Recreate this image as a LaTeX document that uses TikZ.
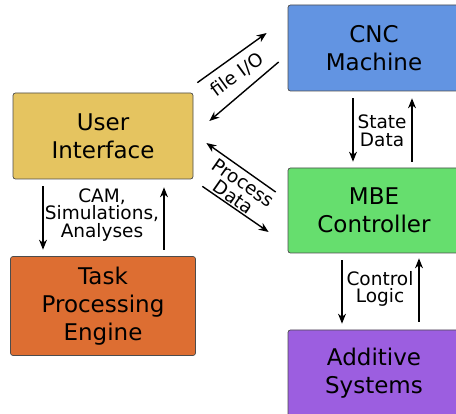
\documentclass[tikz,border=0pt]{standalone}
\usepackage{fontspec}
\setmainfont{DejaVu Sans}
\usetikzlibrary{arrows.meta,calc}

\definecolor{cncblue}{RGB}{98,148,226}
\definecolor{uiyellow}{RGB}{229,196,96}
\definecolor{mbegreen}{RGB}{102,222,110}
\definecolor{taskorange}{RGB}{221,110,50}
\definecolor{addpurple}{RGB}{156,94,224}

\begin{document}
\begin{tikzpicture}[x=1pt, y=-1pt,
    box/.style={draw=black!70, line width=0.7pt, rounded corners=2.5pt, align=center,
        font=\fontsize{23}{28}\selectfont, inner sep=0pt},
    arr/.style={-{Stealth[length=10pt, width=8pt]}, line width=1.4pt},
    lbl/.style={align=center, font=\fontsize{18.5}{17.5}\selectfont, inner sep=0pt}]
    \useasboundingbox (0,0) rectangle (456,414);

    % 方框
    \node[box, fill=uiyellow, minimum width=180pt, minimum height=86pt] (ui) at (103,136) {User\\Interface};
    \node[box, fill=taskorange, minimum width=185pt, minimum height=99pt] (task) at (103,306) {Task\\Processing\\Engine};
    \node[box, fill=cncblue, minimum width=172pt, minimum height=86pt] (cnc) at (374,48) {CNC\\Machine};
    \node[box, fill=mbegreen, minimum width=172pt, minimum height=85pt] (mbe) at (374,210.5) {MBE\\Controller};
    \node[box, fill=addpurple, minimum width=172pt, minimum height=86pt] (add) at (374,373) {Additive\\Systems};

    % UI <-> Task
    \draw[arr] ($(ui.south)+(-60,7)$) -- ($(task.north)+(-60,-6.5)$);
    \draw[arr] ($(task.north)+(61,-6.5)$) -- ($(ui.south)+(61,8)$);
    \node[lbl] (cam) at (102,215) {CAM,\\Simulations,\\Analyses};

    % CNC <-> MBE
    \draw[arr] ($(cnc.south)+(-21,7)$) -- ($(mbe.north)+(-21,-6)$);
    \draw[arr] ($(mbe.north)+(38,-6)$) -- ($(cnc.south)+(38,7)$);
    \node[lbl] (state) at (382,131) {State\\Data};

    % MBE <-> Additive
    \draw[arr] ($(mbe.south)+(-32,7)$) -- ($(add.north)+(-32,-6)$);
    \draw[arr] ($(add.north)+(45,-8)$) -- ($(mbe.south)+(45,5)$);
    \node[lbl] (ctrl) at (380,289) {Control\\Logic};

    % UI <-> CNC
    \draw[arr] ($(ui.north east)+(4,-10)$) -- ($(cnc.west)+(-21,-15)$);
    \draw[arr] ($(cnc.west)+(-9,14)$) -- ($(ui.east)+(16,-15)$);
    \node[lbl, rotate=36] (fileio) at (237,75) {file I/O};

    % UI <-> MBE
    \draw[arr] ($(mbe.west)+(-12,-18.5)$) -- ($(ui.east)+(13,7)$);
    \draw[arr] ($(ui.south east)+(9,7)$) -- ($(mbe.west)+(-19,21.5)$);
    \node[lbl, rotate=-35] (proc) at (238.5,190) {Process\\Data};
\end{tikzpicture}
\end{document}
